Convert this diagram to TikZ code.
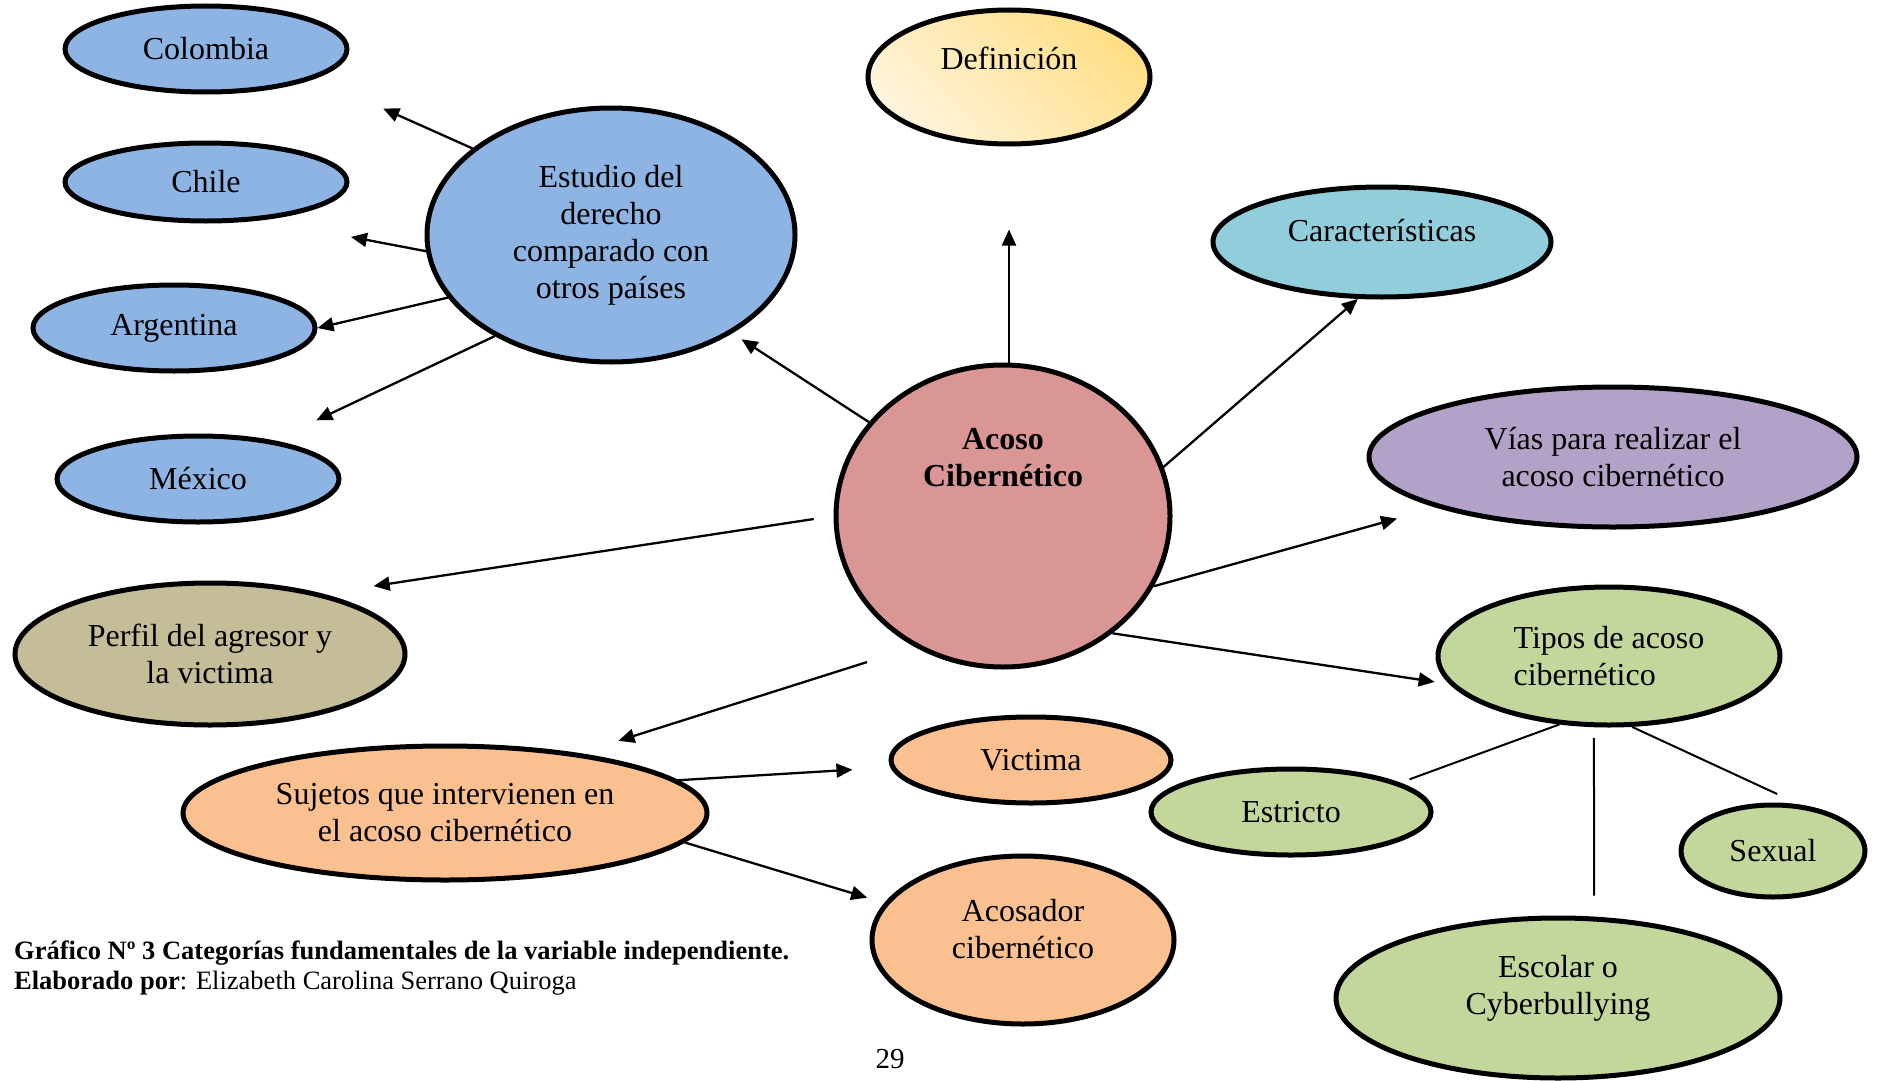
\documentclass[tikz,border=0pt]{standalone}
\usepackage{fontspec}
\setmainfont{Liberation Serif}
\usetikzlibrary{arrows.meta,shapes.geometric}

\definecolor{paisblue}{HTML}{8EB4E3}
\definecolor{defidark}{HTML}{FFDE85}
\definecolor{defilight}{HTML}{FFF4DC}
\definecolor{caraccyan}{HTML}{92CDDC}
\definecolor{acosored}{HTML}{D99694}
\definecolor{viaslila}{HTML}{B3A2C7}
\definecolor{perfilkhaki}{HTML}{C4BD97}
\definecolor{tiposgreen}{HTML}{C3D69B}
\definecolor{sujorange}{HTML}{FAC090}

\tikzset{
  elli/.style={ellipse, draw, line width=5pt, inner sep=0pt, align=center,
    font=\fontsize{32}{37}\selectfont},
  esize/.style 2 args={minimum width=#1pt, minimum height=#2pt},
  lbl/.style={inner sep=0pt, align=center, font=\fontsize{32}{37}\selectfont},
  arr/.style={-{Triangle[length=16pt,width=14pt]}, line width=2.3pt},
  link/.style={line width=2pt},
}

\begin{document}
\begin{tikzpicture}[x=1pt,y=-1pt]
    \useasboundingbox (0,0) rectangle (1879,1081);
    % paises
    \node[elli, fill=paisblue, esize={282}{86}] (colombia) at (206,49) {Colombia};
    \node[elli, fill=paisblue, esize={282}{78}] (chile) at (206,182) {Chile};
    \node[elli, fill=paisblue, esize={282}{86}] (argentina) at (174,328) {Argentina};
    \node[elli, fill=paisblue, esize={282}{86}] (mexico) at (198,479) {México};
    \node[elli, fill=paisblue, esize={368}{254}] (estudio) at (611,235)
    {Estudio del\\derecho\\comparado con\\otros países};
    % centro
    \node[elli, fill=acosored, esize={334}{302}] (acoso) at (1003,516) {};
    \node[lbl, font=\fontsize{32}{37}\selectfont\bfseries] (acosotxt)
    at ([yshift=58pt]acoso.center) {Acoso\\Cibernético};
    \node[elli, top color=defidark, bottom color=defilight, shading angle=-45,
    esize={282}{134}] (defi) at (1009,77) {};
    \node[lbl] (defitxt) at ([yshift=19pt]defi.center) {Definición};
    \node[elli, fill=caraccyan, esize={338}{110}] (carac) at (1382,242) {};
    \node[lbl] (caractxt) at ([yshift=11pt]carac.center) {Características};
    \node[elli, fill=viaslila, esize={488}{140}] (vias) at (1613,457)
    {Vías para realizar el\\acoso cibernético};
    \node[elli, fill=perfilkhaki, esize={390}{142}] (perfil) at (210,654)
    {Perfil del agresor y\\la victima};
    % tipos
    \node[elli, fill=tiposgreen, esize={342}{138}, align=left] (tipos) at (1609,656)
    {Tipos de acoso\\cibernético};
    \node[elli, fill=tiposgreen, esize={280}{86}] (estricto) at (1291,812) {Estricto};
    \node[elli, fill=tiposgreen, esize={184}{92}] (sexual) at (1773,851) {Sexual};
    \node[elli, fill=tiposgreen, esize={444}{160}] (escolar) at (1558,998) {};
    \node[lbl] (escolartxt) at ([yshift=10pt]escolar.center) {Escolar o\\Cyberbullying};
    % sujetos
    \node[elli, fill=sujorange, esize={524}{134}] (sujetos) at (445,813)
    {Sujetos que intervienen en\\el acoso cibernético};
    \node[elli, fill=sujorange, esize={280}{86}] (victima) at (1031,760) {Victima};
    \node[elli, fill=sujorange, esize={302}{168}] (acosador) at (1023,940) {};
    \node[lbl] (acosadortxt) at ([yshift=11pt]acosador.center) {Acosador\\cibernético};

    \draw[arr, shorten >=74pt] (estudio.148) -- (colombia.-15);
    \draw[arr, shorten >=90pt] (estudio.185) -- (chile.-34);
    \draw[arr] (estudio.201) -- (argentina.0);
    \draw[arr, shorten >=47pt] (estudio.221) -- (mexico.27);
    \draw[arr, shorten >=11pt] (acoso.145) -- (estudio.-39);
    \draw[arr, shorten >=83pt] (acoso.north -| defi.south) -- (defi.south);
    \draw[arr] (acoso.17) -- (carac.247);
    \draw[arr, shorten >=41pt] (acoso.-25) -- (vias.196);
    \draw[arr, shorten >=15pt] (acoso.-47) -- (tipos.190);
    \draw[arr, shorten <=20pt, shorten >=51pt] (acoso.180) -- (perfil.28);
    \draw[arr, shorten <=50pt, shorten >=41pt] (acoso.236) -- (sujetos.24);
    \draw[arr, shorten >=38pt] (sujetos.8) -- (victima.183);
    \draw[arr, shorten >=18pt] (sujetos.-7) -- (acosador.165);
    \draw[link, shorten >=10pt] (tipos.234) -- (estricto.15);
    \draw[link, shorten <=11pt, shorten >=21pt] (tipos.258) -- (escolar.66);
    \draw[link, shorten >=25pt] (tipos.288) -- (sexual.60);

    % pie
    \node[anchor=west, inner sep=0pt, font=\fontsize{26.5}{30}\selectfont\bfseries] (cap)
    at (14,953) {Gráfico Nº 3 Categorías fundamentales de la variable independiente.};
    \node[anchor=west, inner sep=0pt, font=\fontsize{26.5}{30}\selectfont] (autor)
    at (14,983) {\textbf{Elaborado por}: Elizabeth Carolina Serrano Quiroga};
    \node[lbl, font=\fontsize{29}{34}\selectfont] (pagina) at (890,1059) {29};
\end{tikzpicture}
\end{document}
